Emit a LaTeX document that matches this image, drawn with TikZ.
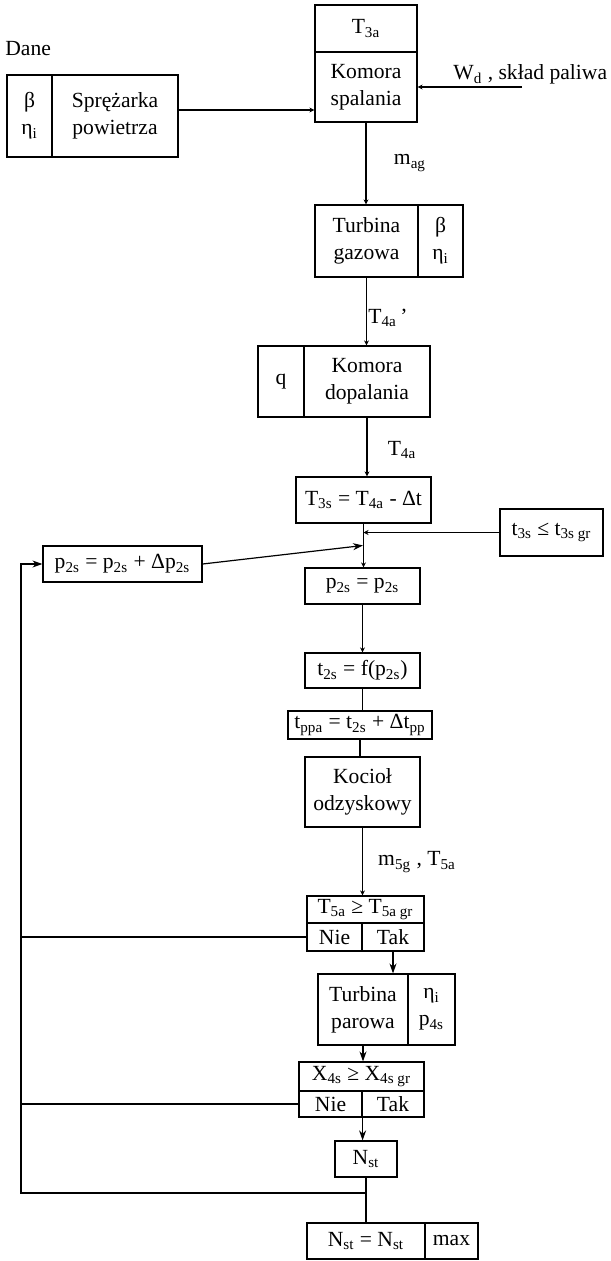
\documentclass[tikz,border=0pt]{standalone}
\usepackage{fontspec}
\setmainfont{Liberation Serif}
\usetikzlibrary{arrows.meta,calc}
\newcommand{\sbt}[1]{\textsubscript{#1}}

\begin{document}
\begin{tikzpicture}[x=0.5pt,y=-0.5pt,
    font=\fontsize{10.8}{13.5}\selectfont,
    blk/.style={draw,line width=0.6pt,inner sep=1pt,align=center},
    lnk/.style={line width=0.6pt},
    arr/.style={lnk,-{Stealth[length=5pt,width=3.5pt]}},
    tick/.style={lnk,-{Stealth[length=2.5pt,width=2.5pt]}}]
      \useasboundingbox (0,0) rectangle (610,1261);
      % dane wejsciowe
      \node[anchor=west,inner sep=0] (dane) at (5,49) {Dane};
      \node[blk,minimum width=22.5pt,minimum height=41pt] (sprp) at (29.5,116) {β\\η\sbt{i}};
      \node[blk,minimum width=63pt,minimum height=41pt] (spr) at (115,116) {Sprężarka\\powietrza};
      \node[blk,minimum width=51pt,minimum height=23.5pt] (kst) at (366,28.5) {T\sbt{3a}};
      \node[blk,minimum width=51pt,minimum height=35pt] (ks) at (366,87) {Komora\\spalania};
      \coordinate (wd) at (522,87);
      \node[anchor=base west,inner sep=0] (wdtxt) at (453,80) {W\sbt{d} , skład paliwa};
      \node (mag) at (410,163) {m\sbt{ag}};
      % turbina gazowa i dopalanie
      \node[blk,minimum width=51.5pt,minimum height=36pt] (tg) at (366.5,241) {Turbina\\gazowa};
      \node[blk,minimum width=22.5pt,minimum height=36pt] (tgp) at (440.5,241) {β\\η\sbt{i}};
      \node (t4p) at (388,318) {T\sbt{4a}\,’};
      \node[blk,minimum width=23pt,minimum height=35.5pt] (kdq) at (281,381.5) {q};
      \node[blk,minimum width=63pt,minimum height=35.5pt] (kd) at (367,381.5) {Komora\\dopalania};
      \node (t4a) at (402,450) {T\sbt{4a}};
      % kociol odzyskowy
      \node[blk,minimum width=67.5pt,minimum height=23pt] (t3s) at (363.5,500) {T\sbt{3s} = T\sbt{4a} - Δt};
      \node[blk,minimum width=51.5pt,minimum height=23.5pt] (lim) at (551.5,532.5) {t\sbt{3s} ≤ t\sbt{3s gr}};
      \node[blk,minimum width=79.5pt,minimum height=18pt] (dp) at (122.5,564) {p\sbt{2s} = p\sbt{2s} + Δp\sbt{2s}};
      \node[blk,minimum width=57.5pt,minimum height=18pt] (p2s) at (362.5,586) {p\sbt{2s} = p\sbt{2s}};
      \node[blk,minimum width=57.5pt,minimum height=17.5pt] (t2s) at (362.5,670.5) {t\sbt{2s} = f(p\sbt{2s})};
      \node[blk,minimum width=72pt,minimum height=14pt] (tppa) at (360,725) {t\sbt{ppa} = t\sbt{2s} + Δt\sbt{pp}};
      \node[blk,minimum width=57.5pt,minimum height=35pt] (kor) at (362.5,792) {Kocioł\\odzyskowy};
      \node (m5g) at (417,862) {m\sbt{5g} , T\sbt{5a}};
      % warunki i turbina parowa
      \node[blk,minimum width=58.5pt,minimum height=13.5pt] (dec1) at (365.5,909.5) {T\sbt{5a} ≥ T\sbt{5a gr}};
      \node[blk,minimum width=27.5pt,minimum height=14pt] (nie1) at (334.5,937) {Nie};
      \node[blk,minimum width=31pt,minimum height=14pt] (tak1) at (393,937) {Tak};
      \node[blk,minimum width=45pt,minimum height=35.5pt] (tp) at (363,1009.5) {Turbina\\parowa};
      \node[blk,minimum width=23.5pt,minimum height=35.5pt] (tpp) at (431.5,1009.5) {η\sbt{i}\\p\sbt{4s}};
      \node[blk,minimum width=62.5pt,minimum height=14.5pt] (dec2) at (361.5,1076.5) {X\sbt{4s} ≥ X\sbt{4s gr}};
      \node[blk,minimum width=31.5pt,minimum height=13pt] (nie2) at (330.5,1104) {Nie};
      \node[blk,minimum width=31pt,minimum height=13pt] (tak2) at (393,1104) {Tak};
      \node[blk,minimum width=31pt,minimum height=18pt] (nst) at (366,1159) {N\sbt{st}};
      \node[blk,minimum width=59pt,minimum height=18pt] (res) at (366,1241) {N\sbt{st} = N\sbt{st}};
      \node[blk,minimum width=26.5pt,minimum height=18pt] (resm) at (451.5,1241) {max};
      \coordinate (jn) at (366,1193);
      \coordinate (back) at (21,1193);
      \coordinate (j2) at ($(t3s.south)!0.5!(p2s.north)$);
      % polaczenia
      \draw[tick] ([yshift=3pt]spr.east) -- ([yshift=3pt]spr.east -| ks.west);
      \draw[tick] (wd) -- (ks.east);
      \draw[tick] (ks.south) -- (ks.south |- tg.north);
      \draw[tick] (tg.south) -- (tg.south |- kd.north);
      \draw[tick] (kd.south) -- (kd.south |- t3s.north);
      \draw[tick] (t3s.south) -- (t3s.south |- p2s.north);
      \draw[tick] (lim.west) -- (lim.west -| t3s.south);
      \draw[arr] (dp.east) -- (j2);
      \draw[tick] (p2s.south) -- (p2s.south |- t2s.north);
      \draw[lnk] (t2s.south) -- (t2s.south |- tppa.north);
      \draw[lnk] (tppa.south) -- (tppa.south |- kor.north);
      \draw[tick] (kor.south) -- (kor.south |- dec1.north);
      \draw[arr] (tak1.south) -- (tak1.south |- tp.north);
      \draw[arr] (tp.south) -- (tp.south |- dec2.north);
      \draw[arr] (nie2.south east) -- (nie2.south east |- nst.north);
      \draw[lnk] (nst.south) -- (res.north);
      \draw[lnk] (nie1.west) -- (nie1.west -| back);
      \draw[lnk] (nie2.west) -- (nie2.west -| back);
      \draw[arr] (jn) -- (back) |- (dp.west);
    \end{tikzpicture}
\end{document}
